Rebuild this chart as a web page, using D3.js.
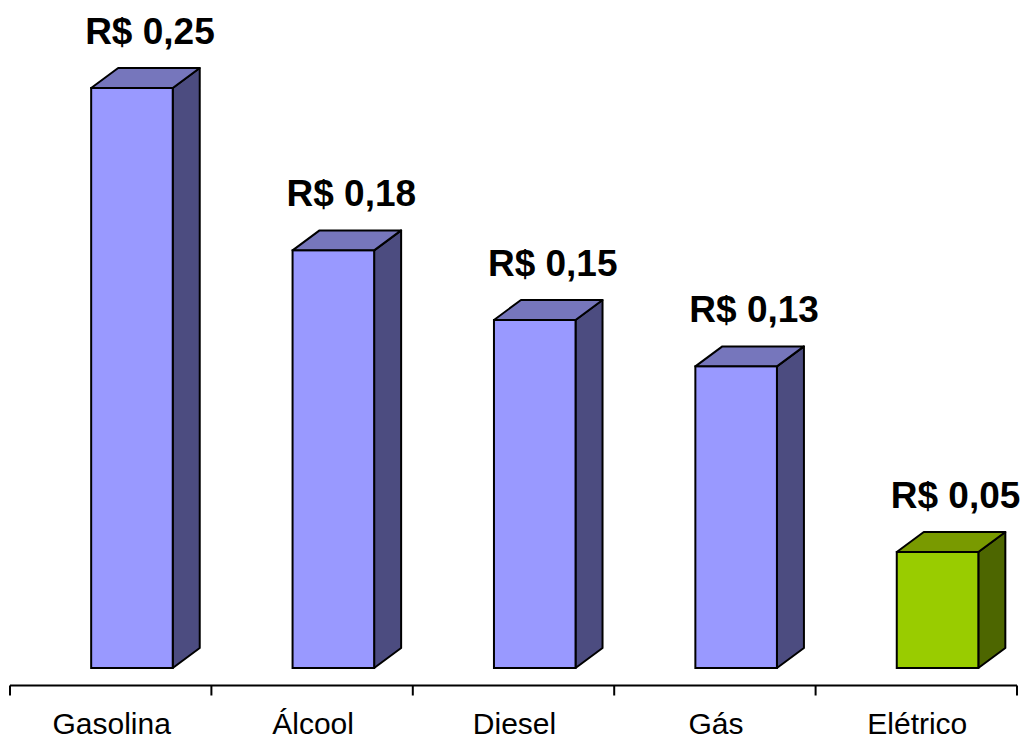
<!DOCTYPE html>
<html>
<head>
<meta charset="utf-8">
<script src="https://cdn.jsdelivr.net/npm/d3@7"></script>
<style>
  html, body { margin: 0; padding: 0; background: #fff; }
  svg { display: block; }
</style>
</head>
<body>
<svg id="chart" width="1027" height="739"></svg>
<script>
// Cost per km by fuel type
const categories = ["Gasolina", "Álcool", "Diesel", "Gás", "Elétrico"];
const values = [0.25, 0.18, 0.15, 0.13, 0.05];
const valueLabels = ["R$ 0,25", "R$ 0,18", "R$ 0,15", "R$ 0,13", "R$ 0,05"];

const palettes = {
  blue:  { front: "#9999FF", top: "#7676BC", side: "#4C4C80" },
  green: { front: "#99CC00", top: "#799A00", side: "#4D6600" }
};
const seriesColor = ["blue", "blue", "blue", "blue", "green"];

const svg = d3.select("#chart");
const W = 1027;

const axisY = 685.5;
const floorY = 668;
const depthX = 27, depthY = 20;

const x = d3.scaleBand().domain(categories).range([10, 1017]).paddingInner(0).paddingOuter(0);
const y = d3.scaleLinear().domain([0, 0.25]).range([floorY, 88]);

const frontOffset = x.bandwidth() * 0.403;
const frontW = x.bandwidth() * 0.405;

const g = svg.append("g");

categories.forEach((c, i) => {
  const pal = palettes[seriesColor[i]];
  const x0 = x(c) + frontOffset;
  const x1 = x0 + frontW;
  const yt = y(values[i]);
  const yb = y(0);

  // side face
  g.append("path")
    .attr("d", d3.line()([[x1, yt], [x1 + depthX, yt - depthY], [x1 + depthX, yb - depthY], [x1, yb]]) + "Z")
    .attr("fill", pal.side).attr("stroke", "#000").attr("stroke-width", 2).attr("stroke-linejoin", "round");
  // top face
  g.append("path")
    .attr("d", d3.line()([[x0, yt], [x0 + depthX, yt - depthY], [x1 + depthX, yt - depthY], [x1, yt]]) + "Z")
    .attr("fill", pal.top).attr("stroke", "#000").attr("stroke-width", 2).attr("stroke-linejoin", "round");
  // front face
  g.append("rect")
    .attr("x", x0).attr("y", yt).attr("width", frontW).attr("height", yb - yt)
    .attr("fill", pal.front).attr("stroke", "#000").attr("stroke-width", 2);

  // value label
  g.append("text")
    .attr("x", x0 + frontW / 2 + 18)
    .attr("y", yt - depthY - 24)
    .attr("text-anchor", "middle")
    .attr("font-family", "Liberation Sans, Arial, sans-serif")
    .attr("font-weight", "bold")
    .attr("font-size", 37)
    .attr("fill", "#000")
    .text(valueLabels[i]);
});

// category axis
const axis = d3.axisBottom(x).tickSize(0).tickFormat("");
const axisG = svg.append("g").attr("transform", `translate(0,${axisY})`).call(axis);
axisG.select(".domain").attr("stroke", "#000").attr("stroke-width", 2).attr("d", "M10,0H1017");

// boundary ticks between categories
const edges = categories.map(c => x(c)).concat([x.range()[1]]);
axisG.selectAll("line.edge").data(edges).join("line")
  .attr("class", "edge")
  .attr("x1", d => d).attr("x2", d => d)
  .attr("y1", 0).attr("y2", 10)
  .attr("stroke", "#000").attr("stroke-width", 2);

axisG.selectAll("text.cat").data(categories).join("text")
  .attr("class", "cat")
  .attr("x", d => x(d) + x.bandwidth() / 2 + 1)
  .attr("y", 48.5)
  .attr("text-anchor", "middle")
  .attr("font-family", "Liberation Sans, Arial, sans-serif")
  .attr("font-size", 30)
  .attr("fill", "#000")
  .text(d => d);
</script>
</body>
</html>
